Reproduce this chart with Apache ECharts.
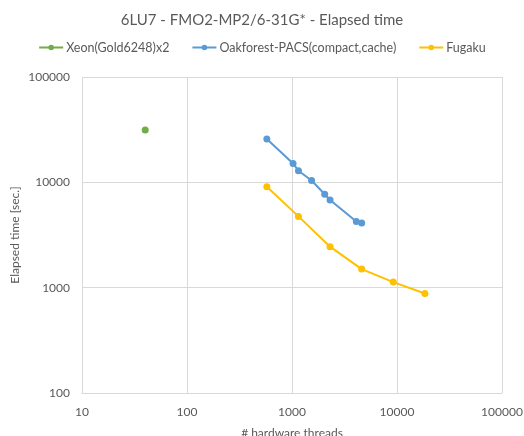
<!DOCTYPE html>
<html>
<head>
    <meta charset="UTF-8">
    <title>Elapsed time</title>
    <script src="https://cdn.jsdelivr.net/npm/echarts@6/dist/echarts.min.js"></script>
    <style>
        html, body { margin: 0; padding: 0; background: #fff; }
        #main { width: 524px; height: 436px; }
    </style>
</head>
<body>
    <div id="main"></div>
    <script>
        // data
        var seriesNames = ['Xeon(Gold6248)x2', 'Oakforest-PACS(compact,cache)', 'Fugaku'];
        var xeonThreads = [40];
        var xeonTime = [31400];
        var ofpThreads = [576, 1024, 1152, 1536, 2048, 2304, 4096, 4608];
        var ofpTime = [25800, 15100, 12900, 10400, 7700, 6800, 4250, 4100];
        var fugakuThreads = [576, 1152, 2304, 4608, 9216, 18432];
        var fugakuTime = [9100, 4750, 2450, 1500, 1130, 880];
        var colors = ['#70AD47', '#5B9BD5', '#FFC000'];

        function pairs(xs, ys) {
            var out = [];
            for (var i = 0; i < xs.length; i++) {
                out.push([xs[i], ys[i]]);
            }
            return out;
        }
        function plain(v) { return String(Math.round(v)); }

        var font = 'Lato, "Open Sans", sans-serif';
        var textColor = '#595959';
        var myChart = echarts.init(document.getElementById('main'));

        var data = [pairs(xeonThreads, xeonTime), pairs(ofpThreads, ofpTime), pairs(fugakuThreads, fugakuTime)];
        var series = [];
        for (var k = 0; k < seriesNames.length; k++) {
            series.push({
                name: seriesNames[k],
                type: 'line',
                data: data[k],
                symbol: 'circle',
                symbolSize: 7,
                lineStyle: { width: 2, color: colors[k] },
                itemStyle: { color: colors[k] }
            });
        }

        myChart.setOption({
            animation: false,
            color: colors,
            title: {
                text: '6LU7 - FMO2-MP2/6-31G* - Elapsed time',
                left: 'center',
                top: 8,
                textStyle: { fontFamily: font, fontSize: 15, fontWeight: 'normal', color: textColor }
            },
            legend: {
                top: 36,
                left: 'center',
                itemWidth: 24,
                itemHeight: 7,
                itemGap: 22,
                textStyle: { fontFamily: font, fontSize: 12.5, color: textColor, padding: [0, 0, 0, -2] },
                data: seriesNames
            },
            grid: { left: 82, right: 22, top: 77, bottom: 43, outerBoundsMode: 'none', containLabel: false },
            xAxis: {
                type: 'log',
                logBase: 10,
                min: 10,
                max: 100000,
                name: '# hardware threads',
                nameLocation: 'middle',
                nameGap: 34,
                nameMoveOverlap: false,
                nameTextStyle: { fontFamily: font, fontSize: 12, color: textColor },
                axisLine: { show: true, lineStyle: { color: '#d9d9d9' } },
                axisTick: { show: false },
                axisLabel: { fontFamily: font, fontSize: 12, color: textColor, margin: 13, formatter: plain },
                splitLine: { show: true, lineStyle: { color: '#d9d9d9' } }
            },
            yAxis: {
                type: 'log',
                logBase: 10,
                min: 100,
                max: 100000,
                name: 'Elapsed time [sec.]',
                nameLocation: 'middle',
                nameGap: 61,
                nameMoveOverlap: false,
                nameTextStyle: { fontFamily: font, fontSize: 12, color: textColor },
                axisLine: { show: false },
                axisTick: { show: false },
                axisLabel: { fontFamily: font, fontSize: 12, color: textColor, margin: 12, formatter: plain },
                splitLine: { show: true, lineStyle: { color: '#d9d9d9' } }
            },
            series: series
        });
    </script>
</body>
</html>
